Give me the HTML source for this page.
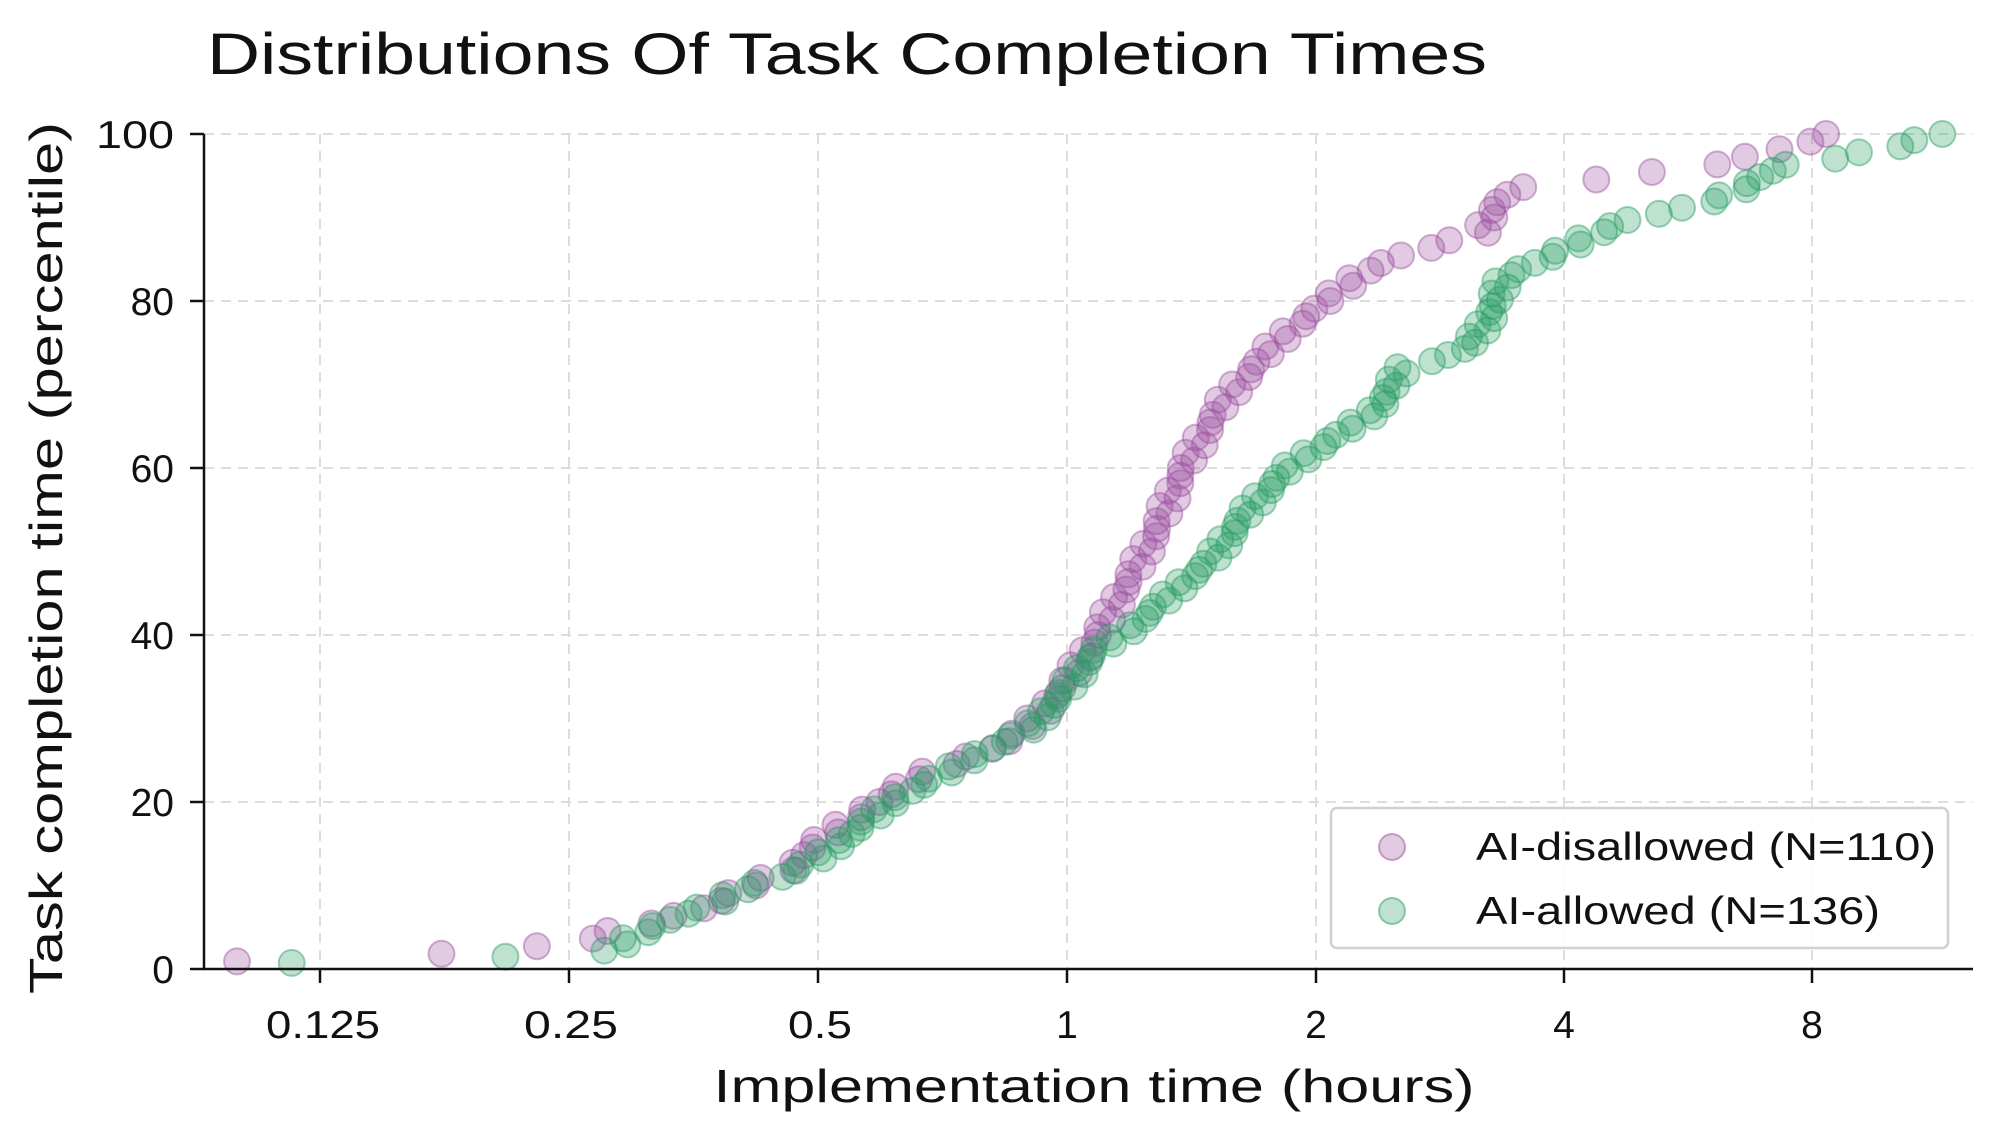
<!DOCTYPE html>
<html><head><meta charset="utf-8"><style>
html,body{margin:0;padding:0;background:#fff}
svg{display:block}
text{font-family:"Liberation Sans",sans-serif;fill:#111}
</style></head><body>
<svg id="s" width="2000" height="1138" viewBox="0 0 2000 1138" xmlns="http://www.w3.org/2000/svg">
<g stroke="#dddddd" stroke-width="2" stroke-dasharray="10,7">
<line x1="320" y1="134" x2="320" y2="969"/><line x1="569" y1="134" x2="569" y2="969"/>
<line x1="818" y1="134" x2="818" y2="969"/><line x1="1067" y1="134" x2="1067" y2="969"/>
<line x1="1316" y1="134" x2="1316" y2="969"/><line x1="1564" y1="134" x2="1564" y2="969"/>
<line x1="1812" y1="134" x2="1812" y2="969"/>
<line x1="204" y1="134" x2="1973" y2="134"/><line x1="204" y1="301" x2="1973" y2="301"/>
<line x1="204" y1="468" x2="1973" y2="468"/><line x1="204" y1="635" x2="1973" y2="635"/>
<line x1="204" y1="802" x2="1973" y2="802"/>
</g>
<g id="pts"></g>
<g stroke="#111" stroke-width="2.5">
<line x1="204" y1="134" x2="204" y2="970"/><line x1="203" y1="969" x2="1973" y2="969"/>
<line x1="190" y1="134" x2="204" y2="134"/><line x1="190" y1="301" x2="204" y2="301"/>
<line x1="190" y1="468" x2="204" y2="468"/><line x1="190" y1="635" x2="204" y2="635"/>
<line x1="190" y1="802" x2="204" y2="802"/><line x1="190" y1="969" x2="204" y2="969"/>
<line x1="320" y1="969" x2="320" y2="983"/><line x1="569" y1="969" x2="569" y2="983"/>
<line x1="818" y1="969" x2="818" y2="983"/><line x1="1067" y1="969" x2="1067" y2="983"/>
<line x1="1316" y1="969" x2="1316" y2="983"/><line x1="1564" y1="969" x2="1564" y2="983"/>
<line x1="1812" y1="969" x2="1812" y2="983"/>
</g>
<g font-size="39" text-anchor="end">
<text x="174" y="148" textLength="78" lengthAdjust="spacingAndGlyphs">100</text><text x="174" y="315">80</text><text x="174" y="482">60</text>
<text x="174" y="649">40</text><text x="174" y="816">20</text><text x="174" y="983">0</text>
</g>
<g font-size="39" text-anchor="middle">
<text x="323" y="1038" textLength="114" lengthAdjust="spacingAndGlyphs">0.125</text><text x="571" y="1038" textLength="94" lengthAdjust="spacingAndGlyphs">0.25</text><text x="820" y="1038" textLength="64" lengthAdjust="spacingAndGlyphs">0.5</text>
<text x="1067" y="1038">1</text><text x="1316" y="1038">2</text><text x="1564" y="1038">4</text>
<text x="1812" y="1038">8</text>
</g>
<text x="1094" y="1102" font-size="46" text-anchor="middle" textLength="761" lengthAdjust="spacingAndGlyphs">Implementation time (hours)</text>
<text transform="translate(62,558) rotate(-90)" font-size="46" text-anchor="middle" textLength="872" lengthAdjust="spacingAndGlyphs">Task completion time (percentile)</text>
<text x="207" y="74" font-size="58" textLength="1280" lengthAdjust="spacingAndGlyphs">Distributions Of Task Completion Times</text>
<rect x="1331" y="808" width="617" height="140" rx="6" fill="#fff" fill-opacity="0.85" stroke="#d0d0d0" stroke-width="2.5"/>
<circle cx="1392" cy="847" r="13" fill="rgba(155,80,160,0.3)" stroke="rgba(155,80,160,0.5)" stroke-width="2"/>
<circle cx="1392" cy="911" r="13" fill="rgba(40,157,100,0.3)" stroke="rgba(40,157,100,0.5)" stroke-width="2"/>
<text x="1476" y="860" font-size="39" textLength="460" lengthAdjust="spacingAndGlyphs">AI-disallowed (N=110)</text>
<text x="1476" y="924" font-size="39" textLength="404" lengthAdjust="spacingAndGlyphs">AI-allowed (N=136)</text>
</svg>
<script>
(function(){
var P=[[-3.34,1],[-2.35,2],[-2.02,3],[-1.76,5],[-1.48,7],[-1.28,10],[-1.11,12],[-1.02,15],[-0.76,20],[-0.61,23],[-0.25,27],[-0.09,31],[0.06,37],[0.22,45],[0.35,52],[0.47,60],[0.63,68],[0.84,75],[1.04,80],[1.22,84],[1.40,86],[1.66,88],[1.76,93],[1.92,94],[2.25,95],[2.54,96],[2.85,98],[3.08,100]];
var G=[[-3.12,1],[-2.22,1.5],[-1.85,2],[-1.74,4],[-1.59,6],[-1.41,8],[-1.28,10],[-1.15,11],[-1.02,13],[-0.92,15],[-0.71,20],[-0.40,25],[-0.14,29],[0.01,34],[0.11,38],[0.27,41],[0.42,45],[0.58,49],[0.73,55],[0.89,60],[1.04,63],[1.25,67],[1.35,72],[1.60,74],[1.70,78],[1.76,83],[1.92,85],[2.12,88],[2.28,90],[2.48,91],[2.69,93],[2.85,96],[3.05,97],[3.26,98],[3.52,100]];
function inv(K,p){if(p<=K[0][1])return K[0][0];for(var i=1;i<K.length;i++){if(p<=K[i][1]){var a=K[i-1],b=K[i];return a[0]+(b[0]-a[0])*(p-a[1])/(b[1]-a[1]);}}return K[K.length-1][0];}
var g=document.getElementById('pts'),s='';
function draw(K,N,col){for(var i=0;i<N;i++){var p=(i+1)/N*100;var lx=inv(K,p)+0.03*Math.sin(i*2.7);var x=1067+lx*248.5;var y=969-p*8.35;
s+='<circle cx="'+x.toFixed(1)+'" cy="'+y.toFixed(1)+'" r="13" fill="rgba('+col+',0.3)" stroke="rgba('+col+',0.45)" stroke-width="2"/>';}}
draw(P,110,'155,80,160');draw(G,136,'40,157,100');
g.innerHTML=s;
})();
</script>
</body></html>
